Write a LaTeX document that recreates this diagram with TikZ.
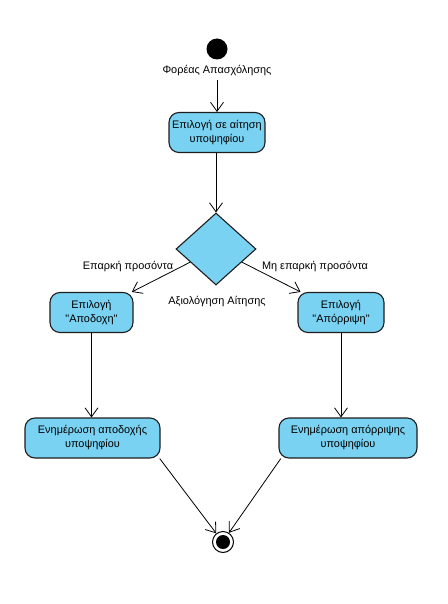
\documentclass[tikz,border=0pt]{standalone}
\usepackage{fontspec}
\setmainfont{Liberation Sans}
\usetikzlibrary{shapes.geometric,arrows.meta}
\definecolor{actfill}{RGB}{122,210,242}
\definecolor{actline}{RGB}{30,30,30}
\tikzset{
  act/.style={draw=actline, line width=1.1pt, fill=actfill, rounded corners=10pt,
    align=center, inner sep=2pt, minimum height=40pt, font=\fontsize{10.9}{14}\selectfont},
  lbl/.style={font=\fontsize{10.9}{13}\selectfont, inner sep=1pt},
  flow/.style={draw=black, line width=0.8pt, -{Straight Barb[length=9pt,width=13pt,line width=0.8pt]}},
}
\begin{document}
\begin{tikzpicture}[x=1pt,y=-1pt]
\useasboundingbox (0,0) rectangle (447,604);
\fill[white] (0,0) rectangle (447,604);
\node[circle, fill=black, minimum size=21pt, inner sep=0] (start) at (217,49) {};
\node[lbl] (startlbl) at (217,71) {Φορέας Απασχόλησης};
\node[act, minimum width=96pt] (b1) at (217,132.5) {Επιλογή σε αίτηση\\υποψηφίου};
\node[diamond, draw=actline, line width=1.1pt, fill=actfill, minimum width=80pt, minimum height=72pt, inner sep=0] (dec) at (216,249) {};
\node[lbl] (declbl) at (217,302) {Αξιολόγηση Αίτησης};
\node[lbl] (yeslbl) at (128,267) {Επαρκή προσόντα};
\node[lbl] (nolbl) at (315,267) {Μη επαρκή προσόντα};
\node[act, minimum width=83pt] (b2) at (91.5,312.5) {Επιλογή\\\textquotedbl Αποδοχη\textquotedbl};
\node[act, minimum width=86pt] (b3) at (341,312.5) {Επιλογή\\\textquotedbl Απόρριψη\textquotedbl};
\node[act, minimum width=135pt] (b4) at (92.5,438) {Ενημέρωση αποδοχής\\υποψηφίου};
\node[act, minimum width=138pt] (b5) at (348,438) {Ενημέρωση απόρριψης\\υποψηφίου};
\node[circle, draw=black, line width=1pt, fill=white, minimum size=21pt, inner sep=0] (endn) at (223,542) {};
\node[circle, fill=black, minimum size=14pt, inner sep=0] (endin) at (223,542) {};
\coordinate (a1) at (217,80);
\draw[flow] (a1) -- (b1.north -| a1);
\draw[flow] (b1.south -| dec) -- (dec.north);
\draw[flow] (dec) -- (b2);
\draw[flow] (dec) -- (b3);
\draw[flow] (b2.south -| 91.5,0) -- (b4.north -| 91.5,0);
\draw[flow] (b3.south) -- (b5.north -| b3.south);
\draw[flow] (b4.-17) -- (endn.128);
\draw[flow] (b5.197) -- (endn.57);
\end{tikzpicture}
\end{document}
